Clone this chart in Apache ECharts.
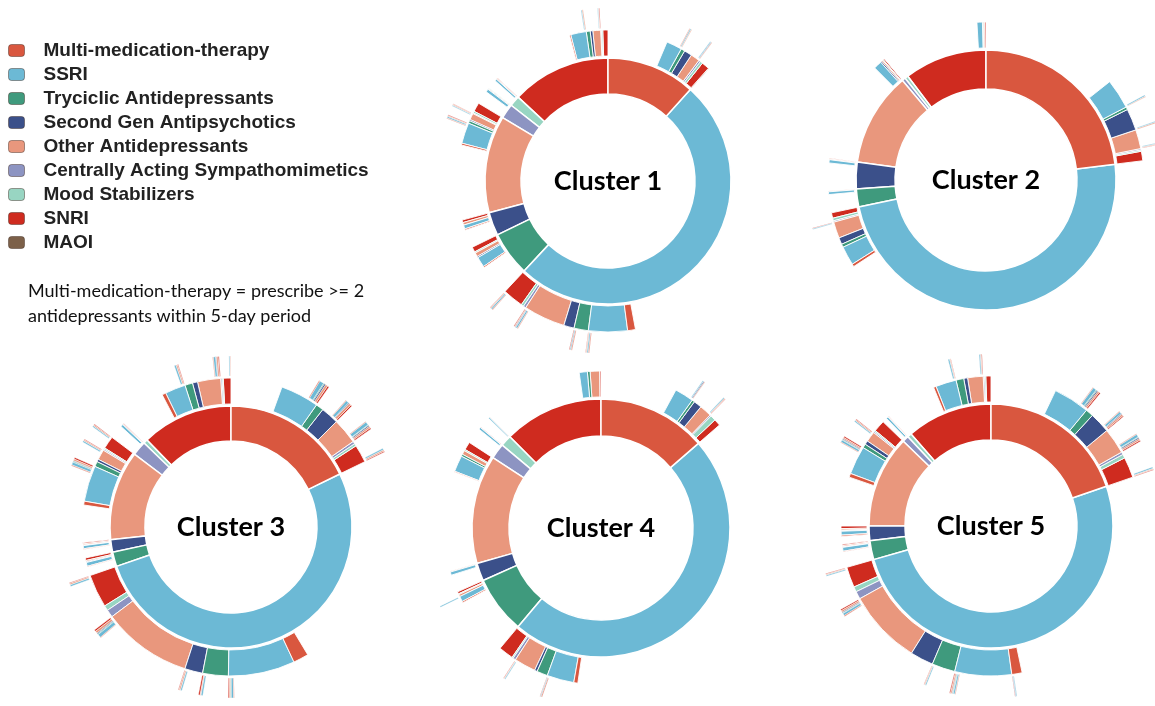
<!DOCTYPE html>
<html>
<head>
<meta charset="utf-8">
<title>Antidepressant treatment pathways by cluster</title>
<script src="https://cdn.jsdelivr.net/npm/echarts@6/dist/echarts.min.js"></script>
<style>
  html, body { margin: 0; padding: 0; background: #ffffff; }
  #chart { width: 1155px; height: 706px; }
</style>
</head>
<body>
<div id="chart"></div>
<script>
// Drug classes, in legend / clockwise order
const categories = [
  'Multi-medication-therapy',
  'SSRI',
  'Tryciclic Antidepressants',
  'Second Gen Antipsychotics',
  'Other Antidepressants',
  'Centrally Acting Sympathomimetics',
  'Mood Stabilizers',
  'SNRI',
  'MAOI'
];
const categoryColors = ['#d9573f', '#6cb9d5', '#3f9a7d', '#3b508a', '#e9977d', '#8d94c2', '#98d5c2', '#cf2b1f', '#7c6049'];

const clusterNames = ['Cluster 1', 'Cluster 2', 'Cluster 3', 'Cluster 4', 'Cluster 5'];

// Share of patients (out of 360) by first-line class, per cluster
const cluster1Level1 = [42, 181, 21, 11, 46, 7, 5, 47, 0];
const cluster2Level1 = [83, 175, 8, 12, 42, 1.5, 1.5, 37, 0];
const cluster3Level1 = [64, 187, 7, 6, 43, 7, 2, 44, 0];
const cluster4Level1 = [49, 171, 26, 8, 49, 7, 5, 45, 0];
const cluster5Level1 = [71, 183, 9, 7, 44, 3, 2, 41, 0];

// Second-line class, one row per first-line class
const cluster1Level2 = [
  [0, 6, 1.5, 3, 3.5, 0.7, 1, 3, 0.3],
  [3, 15, 5.5, 4, 16, 1, 1, 8, 0],
  [0.5, 4, 0, 0.5, 1.5, 0, 0.5, 2, 0],
  [0.5, 1.5, 0, 0, 1, 0, 0, 1, 0],
  [0.7, 8, 1, 0.5, 2.5, 0.3, 0.7, 3.5, 0],
  [0, 1.2, 0, 0, 0.3, 0, 0.3, 0, 0],
  [0, 0.8, 0, 0, 0.3, 0, 0, 0.3, 0],
  [0.5, 6, 1.5, 1, 3, 0.3, 0.5, 2, 0],
  [0, 0, 0, 0, 0, 0, 0, 0, 0]
];
const cluster2Level2 = [
  [0, 11, 1, 8, 7, 0.5, 0.5, 3.5, 0],
  [1, 7, 1.2, 2.5, 6, 0.5, 1, 2, 0],
  [0, 1, 0, 0, 0.3, 0, 0, 0, 0],
  [0, 1.2, 0, 0, 0.3, 0, 0, 0.3, 0],
  [0, 3, 0, 0.5, 0.5, 0, 0.3, 0.5, 0],
  [0, 0, 0, 0, 0, 0, 0, 0, 0],
  [0, 0, 0, 0, 0, 0, 0, 0, 0],
  [0, 2, 0.3, 0, 0.5, 0, 0, 0.5, 0],
  [0, 0, 0, 0, 0, 0, 0, 0, 0]
];
const cluster3Level2 = [
  [0, 15, 3, 7, 10, 1, 1, 7, 0],
  [6, 26, 10, 7, 35, 3, 2, 13, 0],
  [0.3, 1.5, 0, 0.3, 0.5, 0, 0, 1, 0],
  [0.3, 1.2, 0, 0.2, 0.5, 0, 0, 0.5, 0],
  [1.5, 14, 2, 1, 4, 0.5, 0.5, 5, 0],
  [0, 1, 0, 0, 0.3, 0, 0, 0.3, 0],
  [0, 0, 0, 0, 0, 0, 0, 0, 0],
  [1.5, 8, 3, 2, 9, 0.5, 0.5, 3, 0],
  [0, 0, 0, 0, 0, 0, 0, 0, 0]
];
const cluster4Level2 = [
  [0, 7, 1, 3, 4.5, 0.5, 2, 2.5, 0],
  [1.5, 10, 4, 1, 8, 1, 0.5, 5.5, 0],
  [0.5, 2, 0, 0, 0.8, 0, 0.3, 0.8, 0],
  [0, 1.2, 0, 0, 0.3, 0, 0, 0, 0],
  [0.3, 6, 0.8, 0, 1.5, 0, 0.5, 3, 0],
  [0, 0.8, 0, 0, 0, 0, 0, 0.2, 0],
  [0, 0.5, 0, 0, 0, 0, 0, 0.2, 0],
  [0, 3, 1, 0, 3.5, 0, 0, 0.5, 0],
  [0, 0, 0, 0, 0, 0, 0, 0, 0]
];
const cluster5Level2 = [
  [0, 14, 3, 8, 10, 1, 1.5, 8, 0],
  [4, 22, 9, 9, 29, 3, 2, 8, 0],
  [0.3, 1.5, 0, 0.2, 0.5, 0, 0, 0.5, 0],
  [0.5, 1.5, 0.2, 0.2, 0.6, 0, 0, 1, 0],
  [1.5, 11, 1.5, 1.5, 4, 0.5, 0.5, 4.5, 0],
  [0, 0.8, 0, 0, 0.2, 0, 0, 0.2, 0],
  [0, 0, 0, 0, 0, 0, 0, 0, 0],
  [1, 8, 3, 1.5, 6, 0.5, 0.5, 2, 0],
  [0, 0, 0, 0, 0, 0, 0, 0, 0]
];

// Third-line class: [first-line index, second-line index, values by class]
const cluster1Level3 = [
  [0, 1, [0.2, 0.4, 0, 0, 0.3, 0, 0, 0, 0]],
  [0, 4, [0, 0.3, 0, 0.2, 0.3, 0, 0, 0, 0]],
  [1, 1, [0.3, 0.5, 0, 0, 0.3, 0, 0, 0.2, 0]],
  [1, 2, [0.3, 0.4, 0, 0, 0, 0, 0, 0.3, 0]],
  [1, 4, [0.2, 0.6, 0, 0.2, 0.3, 0, 0, 0.3, 0]],
  [1, 7, [0.2, 0.5, 0, 0, 0.3, 0, 0, 0.2, 0]],
  [4, 1, [0.2, 0.5, 0, 0, 0.3, 0, 0, 0.3, 0]],
  [4, 4, [0, 0.3, 0, 0, 0.3, 0, 0, 0.2, 0]],
  [7, 1, [0, 0.3, 0, 0, 0.4, 0, 0, 0, 0]],
  [7, 4, [0, 0.2, 0, 0, 0.2, 0, 0, 0.3, 0]]
];
const cluster2Level3 = [
  [0, 1, [0, 0.4, 0, 0, 0.3, 0, 0, 0, 0]],
  [0, 3, [0, 0.3, 0, 0, 0.4, 0, 0, 0, 0]],
  [0, 4, [0, 0.3, 0, 0, 0.3, 0, 0, 0.2, 0]],
  [1, 4, [0, 0.3, 0, 0, 0, 0, 0, 0.2, 0]]
];
const cluster3Level3 = [
  [0, 1, [0.3, 1.5, 0.3, 0.5, 0.8, 0, 0, 0.6, 0]],
  [0, 3, [0.2, 1, 0, 0.3, 0.8, 0, 0, 0.5, 0]],
  [0, 4, [0.2, 1.2, 0.2, 0.4, 0.6, 0, 0, 0.5, 0]],
  [0, 7, [0, 0.5, 0, 0, 0.5, 0, 0, 0.4, 0]],
  [1, 1, [0.2, 0.8, 0.2, 0, 0.5, 0, 0, 0.4, 0]],
  [1, 2, [0, 0.6, 0, 0, 0.3, 0, 0, 0.6, 0]],
  [1, 3, [0, 0.5, 0, 0, 0.5, 0, 0, 0.3, 0]],
  [1, 4, [0.2, 1.2, 0.3, 0.3, 0.8, 0, 0, 0.6, 0]],
  [1, 7, [0, 0.6, 0, 0, 0.5, 0, 0, 0.3, 0]],
  [4, 1, [0.3, 1, 0.3, 0.2, 0.6, 0, 0, 0.6, 0]],
  [4, 4, [0, 0.5, 0, 0, 0.4, 0, 0, 0.3, 0]],
  [4, 7, [0, 0.4, 0, 0, 0.4, 0, 0, 0.3, 0]],
  [7, 1, [0, 0.6, 0, 0, 0.5, 0, 0, 0.3, 0]],
  [7, 4, [0.2, 0.8, 0, 0.2, 0.6, 0, 0, 0.4, 0]],
  [7, 7, [0, 0.3, 0, 0, 0.2, 0, 0, 0.2, 0]]
];
const cluster4Level3 = [
  [0, 1, [0, 0.3, 0, 0.3, 0.3, 0, 0, 0, 0]],
  [0, 4, [0, 0.3, 0, 0, 0.3, 0, 0, 0.2, 0]],
  [1, 1, [0.3, 0.3, 0, 0, 0, 0, 0, 0.2, 0]],
  [1, 4, [0, 0.3, 0, 0, 0.2, 0, 0, 0.2, 0]],
  [2, 1, [0, 0.4, 0, 0, 0, 0, 0, 0, 0]]
];
const cluster5Level3 = [
  [0, 1, [0.2, 1.2, 0.3, 0.4, 0.6, 0, 0, 0.5, 0]],
  [0, 3, [0.2, 0.8, 0, 0.3, 0.6, 0, 0, 0.4, 0]],
  [0, 4, [0.2, 1, 0.2, 0.4, 0.6, 0, 0, 0.5, 0]],
  [0, 7, [0, 0.5, 0, 0, 0.3, 0, 0, 0.3, 0]],
  [1, 0, [0, 0.3, 0, 0.2, 0, 0, 0, 0.2, 0]],
  [1, 1, [0.2, 0.6, 0.2, 0.2, 0.5, 0, 0, 0.4, 0]],
  [1, 2, [0, 0.4, 0, 0, 0.3, 0, 0, 0.2, 0]],
  [1, 4, [0.3, 0.8, 0.2, 0.3, 0.6, 0, 0, 0.5, 0]],
  [1, 7, [0, 0.4, 0, 0, 0.3, 0, 0, 0.3, 0]],
  [4, 1, [0.2, 0.8, 0.2, 0.3, 0.5, 0, 0, 0.5, 0]],
  [4, 4, [0, 0.4, 0, 0, 0.4, 0, 0, 0.3, 0]],
  [7, 1, [0, 0.5, 0, 0, 0.3, 0, 0, 0.2, 0]],
  [7, 4, [0, 0.4, 0, 0, 0.3, 0, 0, 0.3, 0]]
];

const clusterData = [
  [cluster1Level1, cluster1Level2, cluster1Level3],
  [cluster2Level1, cluster2Level2, cluster2Level3],
  [cluster3Level1, cluster3Level2, cluster3Level3],
  [cluster4Level1, cluster4Level2, cluster4Level3],
  [cluster5Level1, cluster5Level2, cluster5Level3]
];

// Placement of each ring: centre (px), inner and outer radius of the first ring
const clusterLayout = [
  { cx: 608, cy: 181, rIn: 87, rOut: 123 },
  { cx: 986, cy: 180, rIn: 91, rOut: 130 },
  { cx: 231, cy: 527, rIn: 86, rOut: 121 },
  { cx: 601, cy: 528, rIn: 92, rOut: 129 },
  { cx: 991, cy: 526, rIn: 86, rOut: 122 }
];

// Rings are drawn counter-clockwise with reversed order, so each class
// runs clockwise from 12 o'clock and children sit at the end of their parent.
function node(idx, value, children) {
  const n = { name: categories[idx], value: value, itemStyle: { color: categoryColors[idx] } };
  if (children && children.length) n.children = children;
  return n;
}
function buildTree(l1, l2, l3) {
  const out = [];
  for (let i = categories.length - 1; i >= 0; i--) {
    if (!(l1[i] > 0)) continue;
    const kids = [];
    for (let j = categories.length - 1; j >= 0; j--) {
      const v = l2[i][j];
      if (!(v > 0)) continue;
      const grand = [];
      l3.forEach(function (row) {
        if (row[0] === i && row[1] === j) {
          for (let k = categories.length - 1; k >= 0; k--) {
            if (row[2][k] > 0) grand.push(node(k, row[2][k]));
          }
        }
      });
      kids.push(node(j, v, grand));
    }
    out.push(node(i, l1[i], kids));
  }
  return out;
}

const series = clusterLayout.map(function (lay, c) {
  const d = clusterData[c];
  return {
    type: 'sunburst',
    center: [lay.cx, lay.cy],
    radius: [0, lay.rOut + 50],
    startAngle: 90,
    clockwise: false,
    sort: null,
    nodeClick: false,
    silent: true,
    label: { show: false },
    emphasis: { disabled: true },
    itemStyle: { borderColor: '#ffffff', borderWidth: 1 },
    levels: [
      {},
      { r0: lay.rIn, r: lay.rOut, itemStyle: { borderWidth: 1.5 } },
      { r0: lay.rOut + 2, r: lay.rOut + 28, itemStyle: { borderWidth: 0.9 } },
      { r0: lay.rOut + 30, r: lay.rOut + 50, itemStyle: { borderWidth: 0.5 } }
    ],
    data: buildTree(d[0], d[1], d[2])
  };
});

// Legend swatches come from this empty pie
series.push({
  type: 'pie',
  center: [-200, -200],
  radius: 0,
  silent: true,
  stillShowZeroSum: false,
  showEmptyCircle: false,
  label: { show: false },
  labelLine: { show: false },
  data: categories.map(function (n, i) {
    return { name: n, value: 0, itemStyle: { color: categoryColors[i] } };
  })
});

const graphics = clusterLayout.map(function (lay, c) {
  return {
    type: 'text',
    x: lay.cx,
    y: lay.cy,
    silent: true,
    style: {
      text: clusterNames[c],
      fontFamily: 'Lato',
      fontWeight: 'bold',
      fontSize: 27,
      fill: '#000000',
      align: 'center',
      verticalAlign: 'middle'
    }
  };
});
graphics.push({
  type: 'text',
  left: 28,
  top: 279,
  silent: true,
  style: {
    text: 'Multi-medication-therapy = prescribe >= 2\nantidepressants within 5-day period',
    fontFamily: 'Lato',
    fontSize: 18,
    lineHeight: 25,
    fill: '#111111'
  }
});

const chart = echarts.init(document.getElementById('chart'), null, { renderer: 'canvas' });
chart.setOption({
  backgroundColor: '#ffffff',
  animation: false,
  legend: {
    orient: 'vertical',
    left: 8,
    top: 41,
    padding: 0,
    itemWidth: 16,
    itemHeight: 12,
    itemGap: 5,
    icon: 'roundRect',
    selectedMode: false,
    itemStyle: { borderColor: 'rgba(60,40,30,0.45)', borderWidth: 1 },
    textStyle: {
      fontFamily: 'Liberation Sans',
      fontWeight: 'bold',
      fontSize: 19,
      lineHeight: 18,
      color: '#222222',
      padding: [0, 0, 0, 14]
    },
    data: categories
  },
  graphic: graphics,
  series: series
});
</script>
</body>
</html>
